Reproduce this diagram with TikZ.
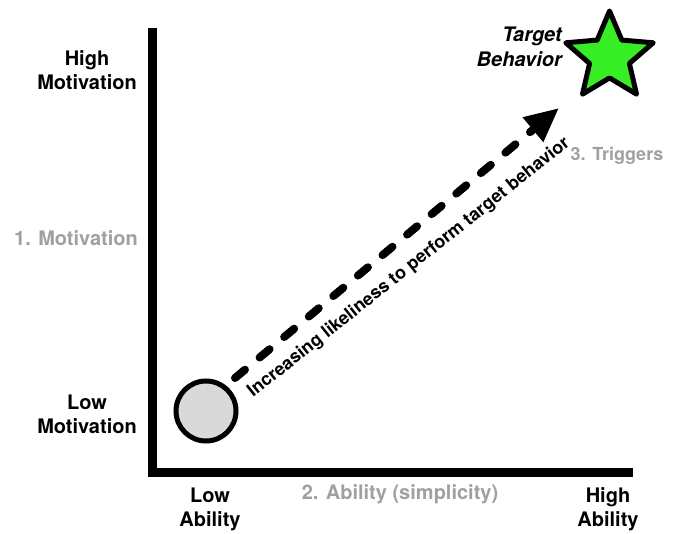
\documentclass[tikz,border=0pt]{standalone}
\usepackage{fontspec}
\setmainfont{TeX Gyre Heros}
\usetikzlibrary{arrows.meta,shapes.geometric}
\definecolor{lbl}{RGB}{160,160,160}
\definecolor{stargreen}{RGB}{55,238,36}
\definecolor{dotgray}{RGB}{217,217,217}
\tikzset{
  axis/.style={line width=9pt},
  bigtxt/.style={font=\bfseries\fontsize{20}{24}\selectfont, align=center, inner sep=0pt},
  graytxt/.style={bigtxt, text=lbl},
}
\begin{document}
\begin{tikzpicture}[x=1pt,y=-1pt]
\useasboundingbox (0,0) rectangle (674,534);
% axes
\coordinate (top) at (152,28);
\coordinate (origin) at (152,472.5);
\coordinate (right) at (633,472.5);
\draw[axis] (top) -- (origin) -- (right);
\draw[axis] (147.5,472.5) -- (origin);
% labels
\node[bigtxt] (hm) at (87,70) {High\\Motivation};
\node[bigtxt] (lm) at (87,414) {Low\\Motivation};
\node[bigtxt] (la) at (210,509) {Low\\Ability};
\node[bigtxt] (ha) at (608,509) {High\\Ability};
\node[graytxt] (mot) at (76,238) {1. Motivation};
\node[graytxt] (abi) at (400,494) {2. Ability (simplicity)};
\node[graytxt, font=\bfseries\fontsize{18}{22}\selectfont] (trg) at (617,156) {3. Triggers};
% circle
\node[circle, draw, line width=5pt, fill=dotgray, minimum size=60pt, inner sep=0pt] (dot) at (206,411) {};
% star
\node[star, star points=5, star point ratio=2.2, draw, line width=5pt, line join=round, fill=stargreen, minimum size=92pt, inner sep=0pt] (goal) at (609.5,57) {};
\node[font=\bfseries\itshape\fontsize{20}{25}\selectfont, align=right, inner sep=0pt, anchor=east] (tb) at (562,47) {Target\\Behavior};
% arrow
\coordinate (a0) at (235,378);
\coordinate (a1) at (559,108);
\draw[line width=8pt, line cap=round, dash pattern=on 13pt off 19pt, -{Triangle[length=34pt,width=30pt]}] (a0) -- (a1);
\node[font=\bfseries\fontsize{18}{20}\selectfont, inner sep=0pt, rotate=38.5, anchor=base west] (lab) at (253,398) {Increasing likeliness to perform target behavior};
\end{tikzpicture}
\end{document}
